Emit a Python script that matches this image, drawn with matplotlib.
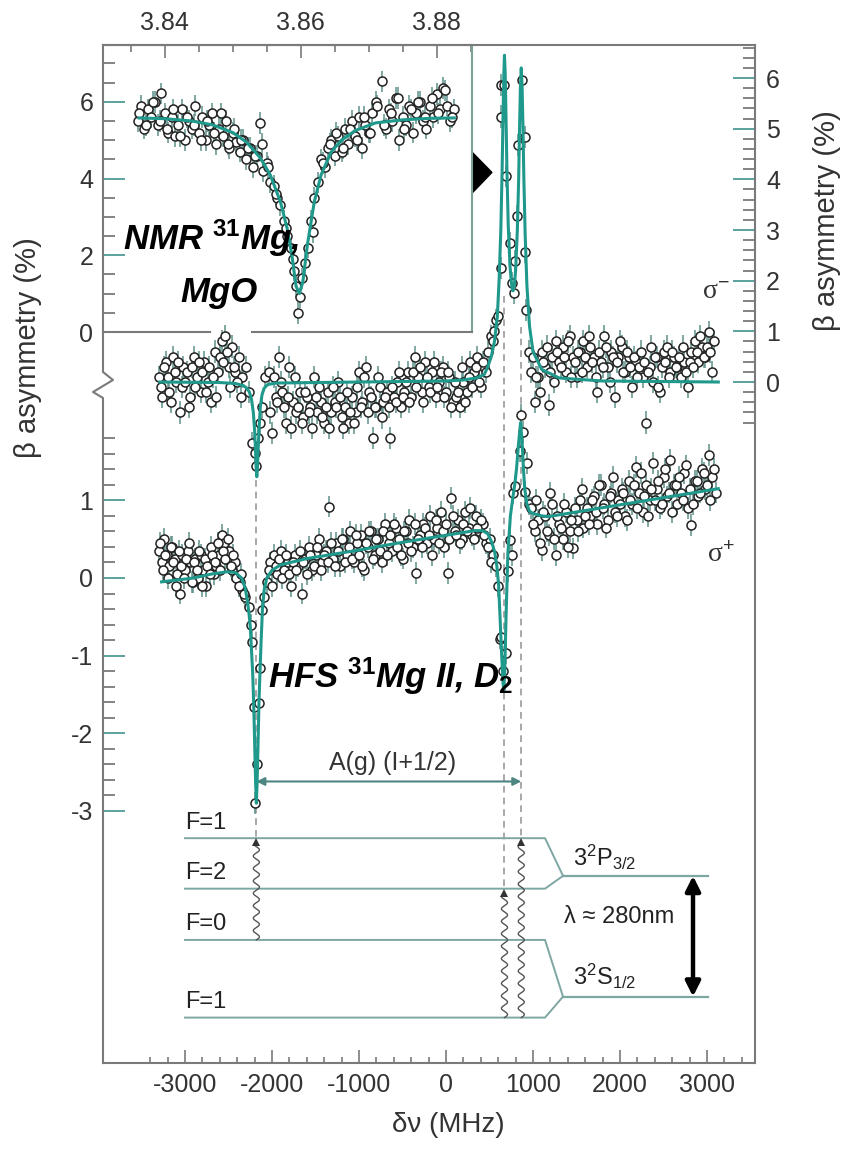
import numpy as np
import matplotlib.pyplot as plt
from matplotlib.lines import Line2D
from matplotlib.patches import Polygon
from matplotlib.ticker import FixedLocator, FormatStrFormatter

plt.rcParams['font.family'] = ['Liberation Sans', 'DejaVu Sans']
plt.rcParams['mathtext.fontset'] = 'custom'
plt.rcParams['mathtext.rm'] = 'Liberation Sans'
plt.rcParams['mathtext.it'] = 'Liberation Sans:italic'
plt.rcParams['mathtext.bf'] = 'Liberation Sans:bold'
plt.rcParams['axes.unicode_minus'] = False

# ---------------- NMR inset (frequency in GHz, asymmetry in %) ----------------
nmr_x = [3.8360, 3.8365, 3.8370, 3.8375, 3.8380, 3.8385, 3.8390, 3.8395, 3.8400, 3.8405,
         3.8410, 3.8415, 3.8420, 3.8425, 3.8430, 3.8435, 3.8440, 3.8445, 3.8450, 3.8455,
         3.8460, 3.8465, 3.8470, 3.8475, 3.8480, 3.8485, 3.8490, 3.8495, 3.8500, 3.8505,
         3.8510, 3.8515, 3.8520, 3.8525, 3.8530, 3.8535, 3.8540, 3.8545, 3.8550, 3.8555,
         3.8560, 3.8565, 3.8570, 3.8575, 3.8580, 3.8585, 3.8590, 3.8593, 3.8596, 3.8602,
         3.8610, 3.8615, 3.8620, 3.8625, 3.8630, 3.8635, 3.8640, 3.8645, 3.8650, 3.8655,
         3.8660, 3.8665, 3.8670, 3.8675, 3.8680, 3.8685, 3.8690, 3.8695, 3.8700, 3.8705,
         3.8710, 3.8719, 3.8725, 3.8730, 3.8735, 3.8740, 3.8745, 3.8750, 3.8755, 3.8760,
         3.8765, 3.8770, 3.8775, 3.8780, 3.8785, 3.8790, 3.8795, 3.8800, 3.8805, 3.8810,
         3.8815, 3.8820, 3.8825,
         3.83625, 3.83725, 3.83825, 3.83925, 3.84025, 3.84125, 3.84225, 3.84325, 3.84425, 3.84525,
         3.84625, 3.84725, 3.84825, 3.84925, 3.85025, 3.85125, 3.85225, 3.85325, 3.85425, 3.85525,
         3.8563, 3.8578, 3.8588, 3.8599, 3.8606, 3.8618,
         3.86325, 3.86425, 3.86525, 3.86625, 3.86725, 3.86825, 3.86925, 3.87025, 3.87125, 3.87225,
         3.87325, 3.87425, 3.87525, 3.87625, 3.87725, 3.87825, 3.87925, 3.88025, 3.88125, 3.88225]
nmr_y = [5.5, 5.9, 5.3, 5.8, 5.6, 6.0, 5.4, 6.22, 5.7, 5.2,
         5.6, 5.1, 5.4, 5.8, 5.0, 5.5, 5.3, 5.9, 5.2, 5.6,
         5.0, 5.4, 5.7, 4.9, 5.3, 5.1, 5.5, 4.8, 5.2, 4.95,
         4.7, 5.0, 4.5, 4.8, 4.3, 4.6, 5.45, 4.2, 4.4, 3.9,
         3.8, 3.5, 3.3, 2.9, 2.5, 2.2, 1.6, 1.2, 0.5, 1.4,
         2.2, 2.9, 3.5, 3.9, 4.5, 4.3, 4.8, 5.0, 4.6, 5.1,
         4.7, 5.3, 4.9, 5.5, 5.1, 5.6, 4.8, 5.4, 5.2, 5.7,
         6.0, 6.53, 5.3, 5.8, 5.5, 6.1, 5.0, 5.6, 5.4, 5.9,
         5.2, 5.7, 6.0, 5.5, 5.3, 5.9, 5.6, 6.2, 5.8, 6.36,
         5.9, 5.5, 5.8,
         5.7, 5.4, 6.0, 5.5, 5.3, 5.8, 5.1, 5.6, 5.4, 5.0,
         5.5, 5.2, 5.7, 4.9, 5.3, 5.0, 4.8, 4.6, 4.9, 4.3,
         3.6, 2.7, 1.9, 0.9, 1.8, 2.6,
         4.4, 4.9, 5.2, 4.8, 5.3, 5.0, 5.6, 5.2, 5.9, 5.4,
         5.7, 6.1, 5.3, 5.8, 6.0, 5.6, 6.1, 5.7, 6.3, 5.6]
nmr_err = 0.28
nmr_fit_x = [3.8362, 3.840, 3.844, 3.847, 3.850, 3.852, 3.854, 3.8555, 3.857, 3.858,
             3.8587, 3.8593, 3.8598, 3.8603, 3.861, 3.862, 3.863, 3.8645, 3.866, 3.868,
             3.871, 3.875, 3.879, 3.8826]
nmr_fit_y = [5.58, 5.56, 5.5, 5.4, 5.2, 4.95, 4.55, 4.1, 3.4, 2.7,
             2.0, 1.2, 1.0, 1.3, 2.3, 3.4, 4.1, 4.7, 5.0, 5.25,
             5.45, 5.53, 5.57, 5.58]

# ---------------- sigma- spectrum (right scale) ----------------
minus_x = [-3300, -3260, -3220, -3180, -3140, -3100, -3060, -3020, -2980, -2940,
           -2900, -2860, -2820, -2780, -2740, -2700, -2660, -2620, -2580, -2540,
           -2500, -2460, -2420, -2380, -2340,
           -3280, -3240, -3200, -3160, -3120, -3080, -3040, -3000, -2960, -2920,
           -2880, -2840, -2800, -2760, -2720, -2680, -2640, -2600, -2560, -2520,
           -2480, -2440, -2400, -2360,
           -2300, -2260, -2230, -2200, -2180, -2165, -2140, -2110, -2080,
           -2040, -2000, -1960, -1920, -1880, -1840, -1800, -1760, -1720, -1680,
           -1640, -1600, -1560, -1520, -1480, -1440, -1400, -1360, -1320, -1280,
           -1240, -1200, -1160, -1120, -1080, -1040, -1000, -960, -920, -880,
           -840, -800, -760, -720, -680, -640, -600, -560, -520, -480,
           -440, -400, -360, -320, -280, -240, -200, -160, -120, -80,
           -40, 0, 40, 80, 120, 160, 200, 240, 280, 320,
           360, 400, 440, 480,
           -2020, -1980, -1940, -1900, -1860, -1820, -1780, -1740, -1700, -1660,
           -1620, -1580, -1540, -1500, -1460, -1420, -1380, -1340, -1300, -1260,
           -1220, -1180, -1140, -1100, -1060, -1020, -980, -940, -900, -860,
           -820, -780, -740, -700, -660, -620, -580, -540, -500, -460,
           -420, -380, -340, -300, -260, -220, -180, -140, -100, -60,
           -20, 20, 60, 100, 140, 180, 220, 260, 300, 340,
           380, 420, 460,
           520, 545, 557, 577, 600, 627, 634, 627, 672, 692,
           730, 761, 781, 788, 815, 827, 873, 903, 906, 923, 950,
           980, 1020, 1060, 1100, 1140, 1180, 1220, 1260, 1300, 1340,
           1380, 1420, 1460, 1500, 1540, 1580, 1620, 1660, 1700, 1740,
           1780, 1820, 1860, 1900, 1940, 1980, 2020, 2060, 2100, 2140,
           2180, 2220, 2260, 2300, 2340, 2380, 2420, 2460, 2500, 2540,
           2580, 2620, 2660, 2700, 2740, 2780, 2820, 2860, 2900, 2940,
           2980, 3020, 3060,
           1000, 1040, 1080, 1120, 1160, 1200, 1240, 1280, 1320, 1360,
           1400, 1440, 1480, 1520, 1560, 1600, 1640, 1680, 1720, 1760,
           1800, 1840, 1880, 1920, 1960, 2000, 2040, 2080, 2120, 2160,
           2200, 2240, 2280, 2320, 2360, 2400, 2440, 2480, 2520, 2560,
           2600, 2640, 2680, 2720, 2760, 2800, 2840, 2880, 2920, 2960,
           3000, 3040, 3080]
minus_y = [0.1, -0.3, 0.4, -0.2, 0.5, 0.0, -0.6, 0.3, 0.2, -0.3,
           0.5, 0.1, -0.2, 0.4, 0.0, -0.4, 0.6, 0.2, 0.8, 0.9,
           0.3, 0.7, 0.2, 0.5, 0.1,
           -0.1, 0.3, 0.1, -0.4, 0.2, 0.4, -0.1, 0.0, -0.5, 0.3,
           -0.1, 0.4, 0.2, -0.2, 0.3, 0.1, -0.3, 0.5, 0.4, 0.6,
           -0.1, 0.3, 0.0, -0.3,
           0.3, -0.2, -1.2, -1.4, -1.65, -1.1, -0.8, -0.5, 0.1,
           0.2, -1.0, -0.3, 0.5, -0.2, -0.8, 0.3, -0.4, -0.6, -0.2,
           -0.7, -0.3, -0.5, 0.1, -0.6, -0.4, -0.8, -0.2, -0.6, -0.4,
           0.0, -0.7, -0.5, -0.8, -0.3, -0.6, 0.2, -0.4, 0.3, -0.2,
           -1.1, -0.5, -0.1, -0.4, -0.2, -1.1, -0.3, 0.0, -0.5, -0.2,
           0.2, -0.3, 0.5, 0.1, -0.2, 0.4, -0.1, 0.2, -0.3, 0.0,
           0.3, -0.2, 0.1, -0.4, -0.3, -0.5, 0.0, -0.2, 0.4, 0.2,
           0.5, -0.1, 0.3, 0.6,
           -0.6, 0.1, -0.4, 0.0, -0.5, -0.3, -0.9, 0.1, -0.5, -0.8,
           -0.2, -0.6, -0.9, -0.3, -0.1, -0.7, -0.5, -0.9, -0.1, -0.5,
           -0.3, -0.9, -0.2, -0.6, -0.8, -0.1, -0.5, 0.1, -0.6, -0.3,
           -0.5, 0.1, -0.7, -0.3, -0.5, -0.1, -0.4, 0.2, -0.3, 0.0,
           -0.4, 0.2, -0.1, 0.3, -0.4, 0.1, -0.2, 0.4, -0.1, 0.2,
           -0.3, 0.2, -0.5, 0.0, -0.2, 0.3, -0.4, 0.1, -0.1, 0.3,
           0.0, 0.4, 0.2,
           0.9, 0.8, 1.0, 1.22, 1.3, 2.25, 5.86, 5.24, 5.86, 4.07,
           2.74, 1.95, 1.76, 2.38, 3.28, 4.68, 5.96, 4.83, 2.57, 1.42, 0.6,
           0.2, -0.4, 0.1, 0.6, 0.3, -0.45, 0.5, 0.8, 0.4, 0.7,
           0.2, 0.9, 0.5, 0.1, 0.6, 0.8, 0.3, 0.7, 0.5, -0.2,
           0.4, 0.9, 0.3, 0.6, -0.3, 0.5, 0.7, 0.2, 0.5, -0.1,
           0.4, 0.3, 0.1, -0.8, 0.3, 0.0, 0.5, -0.2, 0.6, 0.7,
           0.2, 0.5, 0.3, 0.1, 0.4, -0.1, 0.6, 0.8, 0.4, 0.7,
           0.5, 0.98, 0.2,
           0.5, 0.1, -0.2, 0.4, 0.7, 0.2, 0.0, 0.6, 0.3, 0.5,
           0.8, 0.1, 0.4, 0.6, 0.2, 0.5, 0.9, 0.4, 0.1, 0.6,
           0.3, 0.7, 0.0, 0.5, 0.4, 0.8, 0.2, 0.6, 0.3, 0.5,
           0.1, 0.6, 0.4, 0.2, 0.7, 0.5, -0.1, 0.3, 0.4, 0.1,
           0.6, 0.3, 0.5, 0.7, 0.2, 0.4, 0.3, 0.6, 0.9, 0.5,
           0.7, 0.6, 0.8]
minus_err = 0.22
minus_fit_x = [-3290, -2600, -2420, -2330, -2290, -2260, -2235, -2215, -2200, -2190,
               -2182, -2175, -2168, -2160, -2150, -2135, -2115, -2090, -2050, -1950,
               -1000, 0, 200, 350, 440, 480, 520, 557, 590, 610,
               630, 645, 655, 665, 672, 680, 690, 700, 715, 735,
               755, 770, 785, 800, 820, 835, 845, 855, 865, 875,
               885, 895, 910, 930, 960, 1000, 1100, 1300, 1800, 3130]
minus_fit_y = [0.0, -0.01, -0.03, -0.07, -0.12, -0.2, -0.35, -0.6, -0.95, -1.35,
               -1.7, -1.87, -1.7, -1.35, -0.95, -0.5, -0.25, -0.12, -0.05, -0.02,
               0.0, 0.02, 0.04, 0.08, 0.15, 0.3, 0.5, 0.8, 1.3, 2.0,
               3.0, 4.2, 5.2, 6.1, 6.45, 6.1, 5.2, 4.2, 3.1, 2.3,
               1.9, 1.8, 1.9, 2.2, 3.0, 4.0, 5.0, 5.8, 6.2, 5.8,
               5.0, 4.0, 2.9, 1.9, 1.1, 0.6, 0.25, 0.08, 0.02, 0.0]

# ---------------- sigma+ spectrum (left scale) ----------------
plus_x = [-3300, -3270, -3240, -3210, -3180, -3150, -3120, -3090, -3060, -3030,
          -3000, -2970, -2940, -2910, -2880, -2850, -2820, -2790, -2760, -2730,
          -2700, -2670, -2640, -2610, -2580, -2550, -2520, -2490, -2460, -2430,
          -2400, -2370, -2340, -2310,
          -3285, -3255, -3225, -3195, -3165, -3135, -3105, -3075, -3045, -3015,
          -2985, -2955, -2925, -2895, -2865, -2835, -2805, -2775, -2745, -2715,
          -2685, -2655, -2625, -2595, -2565, -2535, -2505, -2475, -2445, -2415,
          -2385, -2355, -2325,
          -2268, -2240, -2230, -2211, -2191, -2172, -2153, -2134, -2114, -2095,
          -2060, -2020, -1980, -1940, -1900, -1860, -1820, -1780, -1740, -1700,
          -1660, -1620, -1580, -1540, -1500, -1460, -1420, -1380, -1340, -1300,
          -1260, -1220, -1180, -1140, -1100, -1060, -1020, -980, -940, -900,
          -860, -820, -780, -740, -700, -660, -620, -580, -540, -500,
          -460, -420, -380, -340, -300, -260, -220, -180, -140, -100,
          -60, -20, 20, 60, 100, 140, 180, 220, 260, 300,
          340, 380, 420, 460, 500, 540,
          -2040, -2000, -1960, -1920, -1880, -1840, -1800, -1760, -1720, -1680,
          -1640, -1600, -1560, -1520, -1480, -1440, -1400, -1360, -1320, -1280,
          -1240, -1200, -1160, -1120, -1080, -1040, -1000, -960, -920, -880,
          -840, -800, -760, -720, -680, -640, -600, -560, -520, -480,
          -440, -400, -360, -320, -280, -240, -200, -160, -120, -80,
          -40, 0, 40, 80, 120, 160, 200, 240, 280, 320,
          360, 400, 440, 480, 520,
          570, 595, 615, 634, 655, 692, 711, 730, 757, 765,
          788, 846, 865, 884, 903, 934, 955,
          980, 1020, 1060, 1100, 1140, 1180, 1220, 1260, 1300, 1340,
          1380, 1420, 1460, 1500, 1540, 1580, 1620, 1660, 1700, 1740,
          1780, 1820, 1860, 1900, 1940, 1980, 2020, 2060, 2100, 2140,
          2180, 2220, 2260, 2300, 2340, 2380, 2420, 2460, 2500, 2540,
          2580, 2620, 2660, 2700, 2740, 2780, 2820, 2860, 2900, 2940,
          2980, 3020, 3060, 3100,
          1000, 1040, 1080, 1120, 1160, 1200, 1240, 1280, 1320, 1360,
          1400, 1440, 1480, 1520, 1560, 1600, 1640, 1680, 1720, 1760,
          1800, 1840, 1880, 1920, 1960, 2000, 2040, 2080, 2120, 2160,
          2200, 2240, 2280, 2320, 2360, 2400, 2440, 2480, 2520, 2560,
          2600, 2640, 2680, 2720, 2760, 2800, 2840, 2880, 2920, 2960,
          3000, 3040, 3080]
plus_y = [0.35, 0.2, 0.5, 0.3, 0.15, 0.4, 0.25, 0.05, -0.2, 0.3,
          0.1, 0.35, 0.2, -0.05, 0.25, 0.0, 0.3, 0.1, -0.1, 0.2,
          0.4, 0.05, 0.15, 0.3, 0.55, 0.45, 0.25, 0.35, 0.1, 0.2,
          0.0, -0.05, -0.15, -0.25,
          0.45, 0.1, 0.3, 0.0, 0.4, 0.2, -0.1, 0.35, 0.15, 0.0,
          0.25, 0.45, -0.05, 0.2, 0.1, 0.35, -0.1, 0.25, 0.15, 0.05,
          0.3, 0.2, 0.45, 0.1, 0.35, 0.25, 0.5, 0.15, 0.3, 0.0,
          -0.1, 0.05, -0.2,
          -0.37, -0.6, -0.82, -1.66, -2.9, -2.39, -1.61, -1.16, -0.41, -0.24,
          -0.05, 0.2, 0.3, 0.05, 0.35, 0.1, 0.2, -0.1, 0.3, 0.15,
          -0.2, 0.25, 0.4, 0.1, 0.3, 0.5, 0.2, 0.35, 0.92, 0.25,
          0.45, 0.15, 0.5, 0.3, 0.6, 0.2, 0.45, 0.55, 0.1, 0.4,
          0.6, 0.3, 0.5, 0.2, 0.7, 0.45, 0.35, 0.65, 0.5, 0.25,
          0.6, 0.75, 0.4, 0.06, 0.55, 0.7, 0.45, 0.8, 0.5, 0.65,
          0.85, 0.4, 0.06, 1.03, 0.6, 0.75, 0.5, 0.85, 0.65, 0.55,
          0.8, 0.6, 0.7, 0.45, 0.5, 0.3,
          0.1, -0.1, 0.15, 0.25, 0.0, 0.3, 0.05, 0.2, 0.1, 0.35,
          0.2, 0.05, 0.3, 0.15, 0.4, 0.1, 0.3, 0.2, 0.45, 0.15,
          0.35, 0.5, 0.2, 0.4, 0.25, 0.55, 0.3, 0.15, 0.45, 0.6,
          0.25, 0.5, 0.35, 0.6, 0.3, 0.55, 0.7, 0.4, 0.3, 0.6,
          0.45, 0.35, 0.7, 0.5, 0.4, 0.65, 0.55, 0.3, 0.75, 0.45,
          0.6, 0.7, 0.5, 0.8, 0.55, 0.45, 0.7, 0.6, 0.9, 0.5,
          0.65, 0.75, 0.55, 0.4, 0.2,
          0.15, -0.1, -0.78, -0.76, -1.2, -0.97, 0.09, 0.49, 0.30, 1.09,
          1.18, 1.63, 2.1, 1.88, 1.11, 1.48, 0.95,
          0.9, 0.6, 0.75, 0.36, 0.8, 0.55, 0.95, 0.3, 0.7, 0.5,
          0.85, 0.6, 0.38, 0.75, 1.0, 0.65, 0.9, 0.8, 1.05, 0.7,
          1.2, 0.95, 0.75, 1.1, 0.85, 1.0, 1.15, 0.8, 1.25, 0.95,
          1.43, 1.1, 0.85, 1.2, 1.0, 1.48, 1.15, 0.9, 1.3, 1.05,
          1.52, 1.2, 0.95, 1.1, 1.35, 0.9, 0.68, 1.25, 1.05, 1.4,
          1.15, 1.58, 1.3, 1.1,
          0.7, 1.0, 0.45, 0.85, 0.6, 1.1, 0.5, 0.8, 0.65, 0.95,
          0.4, 0.75, 0.9, 0.6, 1.15, 0.8, 0.7, 1.0, 0.85, 1.2,
          0.9, 0.65, 1.05, 1.3, 0.8, 0.95, 1.1, 0.75, 1.0, 1.2,
          0.9, 1.35, 1.05, 0.8, 1.15, 1.0, 1.25, 0.95, 1.4, 1.1,
          0.85, 1.2, 1.3, 1.0, 1.45, 1.15, 0.95, 1.25, 1.1, 1.35,
          1.2, 1.0, 1.4]
plus_err = 0.14
plus_fit_x = [-3270, -2900, -2700, -2520, -2420, -2350, -2310, -2285, -2265, -2250,
              -2235, -2222, -2210, -2198, -2188, -2180, -2172, -2162, -2150, -2138,
              -2125, -2110, -2090, -2060, -2000, -1900, -1600, -1000, -500, 0,
              330, 420, 480, 530, 560, 585, 605, 625, 640, 655,
              665, 675, 690, 711, 740, 770, 790, 810, 835, 857,
              875, 890, 905, 930, 960, 1000, 1100, 1175, 2150, 3130]
plus_fit_y = [-0.05, 0.0, 0.05, 0.08, 0.07, 0.0, -0.12, -0.28, -0.45, -0.63,
              -0.95, -1.23, -1.65, -2.2, -2.65, -2.9, -2.65, -2.2, -1.6, -1.2,
              -0.8, -0.4, -0.15, 0.0, 0.1, 0.17, 0.25, 0.36, 0.46, 0.55,
              0.61, 0.61, 0.57, 0.45, 0.33, 0.15, -0.1, -0.6, -1.0, -1.35,
              -1.45, -1.2, -0.5, 0.32, 0.8, 1.05, 1.2, 1.4, 1.75, 2.0,
              1.75, 1.4, 1.15, 0.95, 0.86, 0.83, 0.8, 0.79, 0.97, 1.15]

# resonance positions (MHz) and the level scheme drawn under the spectra
lines_mhz = [-2180, 672, 865]
upper_levels = [-3.35, -4.0]      # F=1, F=2 of 3 2P3/2
lower_levels = [-4.66, -5.66]     # F=0, F=1 of 3 2S1/2
p_level, s_level = -3.835, -5.39
level_labels = ['F=1', 'F=2', 'F=0', 'F=1']

TEAL = '#1f998b'
ERR = '#5f918c'
SPINE = '#7a7a7a'
TICK_MAJ = '#4e9b95'
LEVEL = '#7ea7a3'

fig = plt.figure(figsize=(8.54, 11.52), dpi=100)


def px(x, y):
    return (x / 854, 1 - y / 1152)


ax = fig.add_axes([0.1206, 0.0773, 0.7635, 0.8836])
ax.set_xlim(-3943, 3552)
ax.set_ylim(-6.244, 6.862)
ax2 = ax.twinx()
ax2.set_ylim(-13.44, 6.651)

for s in ['left', 'right']:
    ax.spines[s].set_visible(False)
for s in ['left', 'top', 'bottom']:
    ax2.spines[s].set_visible(False)
for sp in [ax.spines['top'], ax.spines['bottom'], ax2.spines['right']]:
    sp.set_color(SPINE)
    sp.set_linewidth(1.5)

# bottom axis
ax.set_xticks(range(-3000, 3001, 1000))
ax.xaxis.set_minor_locator(FixedLocator(list(range(-3400, 3401, 200))))
ax.tick_params(axis='x', which='both', direction='in', top=False, color=SPINE,
               width=1.2, labelsize=18, labelcolor='#333', pad=7)
ax.tick_params(axis='x', which='major', length=9.5)
ax.tick_params(axis='x', which='minor', length=4.5)

# left scale for sigma+
ax.set_yticks([-3, -2, -1, 0, 1])
ax.yaxis.set_minor_locator(FixedLocator([v for v in np.round(np.arange(-3, 1.81, 0.2), 1)
                                         if abs(v - round(v)) > 0.01]))
ax.tick_params(axis='y', which='both', direction='in', right=False, width=1.3,
               labelsize=18, labelcolor='#333', pad=7)
ax.tick_params(axis='y', which='major', length=16, color=TICK_MAJ)
ax.tick_params(axis='y', which='minor', length=8.5, color=SPINE)

# right scale for sigma-
ax2.set_yticks(range(0, 7))
ax2.yaxis.set_minor_locator(FixedLocator([v for v in np.round(np.arange(-0.8, 6.61, 0.2), 1)
                                          if abs(v - round(v)) > 0.01]))
ax2.tick_params(axis='y', which='both', direction='in', width=1.3,
                labelsize=18, labelcolor='#333', pad=8)
ax2.tick_params(axis='y', which='major', length=16, color=TICK_MAJ)
ax2.tick_params(axis='y', which='minor', length=8.5, color=SPINE)

# left spine with the axis break
brk = [(103, 332), (103, 372), (113, 380), (93, 392), (103, 398), (103, 1063)]
fig.add_artist(Line2D([px(*p)[0] for p in brk], [px(*p)[1] for p in brk],
                      color=SPINE, lw=1.5))

# spectra
ax2.errorbar(minus_x, minus_y, yerr=minus_err, fmt='o', ms=6.5, mfc='white', mec='#222',
             mew=1.1, ecolor=ERR, elinewidth=1.1, capsize=0, zorder=3)
ax2.plot(minus_fit_x, minus_fit_y, color=TEAL, lw=2.2, zorder=4)

ax.errorbar(plus_x, plus_y, yerr=plus_err, fmt='o', ms=6.5, mfc='white', mec='#222',
            mew=1.1, ecolor=ERR, elinewidth=1.1, capsize=0, zorder=3)
ax.plot(plus_fit_x, plus_fit_y, color=TEAL, lw=2.2, zorder=4)

# dashed guide lines
dash_tops = [1.26, 3.63, 3.23]
dash_bots = [upper_levels[0], upper_levels[1], upper_levels[0]]
for xm, yt, yb in zip(lines_mhz, dash_tops, dash_bots):
    ax.plot([xm, xm], [yt, yb], ls=(0, (4, 3)), color='#999999', lw=1.2, zorder=2)

# A(g)(I+1/2) arrow
ax.annotate('', xy=(lines_mhz[0], -2.62), xytext=(lines_mhz[2], -2.62),
            arrowprops=dict(arrowstyle='<|-|>', color='#4d8580', lw=1.5,
                            mutation_scale=12, shrinkA=0, shrinkB=0))
ax.text(-609, -2.38, 'A(g) (I+1/2)', ha='center', va='center', fontsize=18, color='#333')

# level scheme
x0, xb0, xb1, x1 = -3000, 1138, 1345, 3011
for yl in upper_levels:
    ax.plot([x0, xb0, xb1], [yl, yl, p_level], color=LEVEL, lw=1.4)
for yl in lower_levels:
    ax.plot([x0, xb0, xb1], [yl, yl, s_level], color=LEVEL, lw=1.4)
ax.plot([xb1, x1], [p_level, p_level], color=LEVEL, lw=1.6)
ax.plot([xb1, x1], [s_level, s_level], color=LEVEL, lw=1.6)
for yl, lab in zip(upper_levels + lower_levels, level_labels):
    ax.text(x0, yl + 0.2, lab, ha='left', va='center', fontsize=17, color='#222')
ax.text(1460, -3.6, r'3$^2$P$_{3/2}$', ha='left', va='center', fontsize=17, color='#222')
ax.text(1460, -5.13, r'3$^2$S$_{1/2}$', ha='left', va='center', fontsize=17, color='#222')
ax.text(1989, -4.36, 'λ ≈ 280nm', ha='center', va='center', fontsize=17, color='#222')
ax.annotate('', xy=(2839, p_level), xytext=(2839, s_level),
            arrowprops=dict(arrowstyle='<|-|>', color='black', lw=3.2,
                            mutation_scale=22, shrinkA=0, shrinkB=0))


def wavy(xm, y_from, y_to):
    yy = np.linspace(y_from, y_to - 0.08, 300)
    xx = xm + 35 * np.sin(2 * np.pi * (yy - y_from) / 0.16)
    ax.plot(xx, yy, color='#555555', lw=1.0)
    ax.plot([xm], [y_to - 0.055], marker='^', ms=6, color='#333333', mew=0)


wavy(lines_mhz[0], lower_levels[0], upper_levels[0])
wavy(lines_mhz[1], lower_levels[1], upper_levels[1])
wavy(lines_mhz[2], lower_levels[1], upper_levels[0])

# sigma labels
ax2.text(2943, 1.76, 'σ$^{-}$', ha='left', va='center', fontsize=20, color='#333',
         family=['Liberation Serif', 'DejaVu Serif'])
ax.text(3000, 0.30, 'σ$^{+}$', ha='left', va='center', fontsize=20, color='#333',
        family=['Liberation Serif', 'DejaVu Serif'])

# ---------------- inset ----------------
ins = fig.add_axes([0.1206, 0.7118, 0.4321, 0.2491])
ins.patch.set_alpha(0)
ins.set_xlim(3.8309, 3.8852)
ins.set_ylim(0.026, 7.48)
ins.spines['bottom'].set_visible(False)
for s in ['left', 'top', 'right']:
    ins.spines[s].set_color(SPINE)
    ins.spines[s].set_linewidth(1.5)
ins.spines['right'].set_color('#7f9f9b')
ins.xaxis.tick_top()
ins.set_xticks([3.84, 3.86, 3.88])
ins.xaxis.set_major_formatter(FormatStrFormatter('%.2f'))
ins.xaxis.set_minor_locator(FixedLocator([3.835, 3.845, 3.85, 3.855, 3.865, 3.87, 3.875, 3.885]))
ins.tick_params(axis='x', which='both', direction='in', color=SPINE, width=1.2,
                labelsize=18, labelcolor='#333', pad=7)
ins.tick_params(axis='x', which='major', length=9.5)
ins.tick_params(axis='x', which='minor', length=5)
ins.set_yticks([0, 2, 4, 6])
ins.yaxis.set_minor_locator(FixedLocator([0.5, 1, 1.5, 2.5, 3, 3.5, 4.5, 5, 5.5, 6.5, 7]))
ins.tick_params(axis='y', which='both', direction='in', right=False, width=1.3,
                labelsize=18, labelcolor='#333', pad=7)
ins.tick_params(axis='y', which='major', length=16, color=TICK_MAJ)
ins.tick_params(axis='y', which='minor', length=8.5, color=SPINE)

ins.errorbar(nmr_x, nmr_y, yerr=nmr_err, fmt='o', ms=6.5, mfc='white', mec='#222',
             mew=1.1, ecolor=ERR, elinewidth=1.1, capsize=0, zorder=3)
ins.plot(nmr_fit_x, nmr_fit_y, color=TEAL, lw=2.2, zorder=4)

# inset bottom edge (with the small gap)
for seg in [[(103, 332), (210, 332)], [(252, 332), (472, 332)]]:
    fig.add_artist(Line2D([px(*p)[0] for p in seg], [px(*p)[1] for p in seg],
                          color=SPINE, lw=1.5))

# pointer triangle
ins.add_patch(Polygon([(1.0, 0.484), (1.0, 0.627), (1.054, 0.556)], closed=True,
                      transform=ins.transAxes, clip_on=False, color='black'))

# annotations
fig.text(*px(123, 250), r'NMR $^{\mathbf{31}}$Mg,', fontsize=25, fontweight='bold',
         style='italic', va='baseline', ha='left')
fig.text(*px(180, 302), 'MgO', fontsize=25, fontweight='bold', style='italic',
         va='baseline', ha='left')
fig.text(*px(268, 688), r'HFS $^{\mathbf{31}}$Mg II, D$_{\mathbf{2}}$', fontsize=25,
         fontweight='bold', style='italic', va='baseline', ha='left')

# axis labels
fig.text(*px(28, 348), 'β asymmetry (%)', rotation=90, ha='center', va='center',
         fontsize=21, color='#333')
fig.text(*px(827, 221), 'β asymmetry (%)', rotation=90, ha='center', va='center',
         fontsize=21, color='#333')
fig.text(*px(448, 1125), 'δν (MHz)', ha='center', va='center', fontsize=20, color='#333')

fig.savefig('out.png', dpi=100)
